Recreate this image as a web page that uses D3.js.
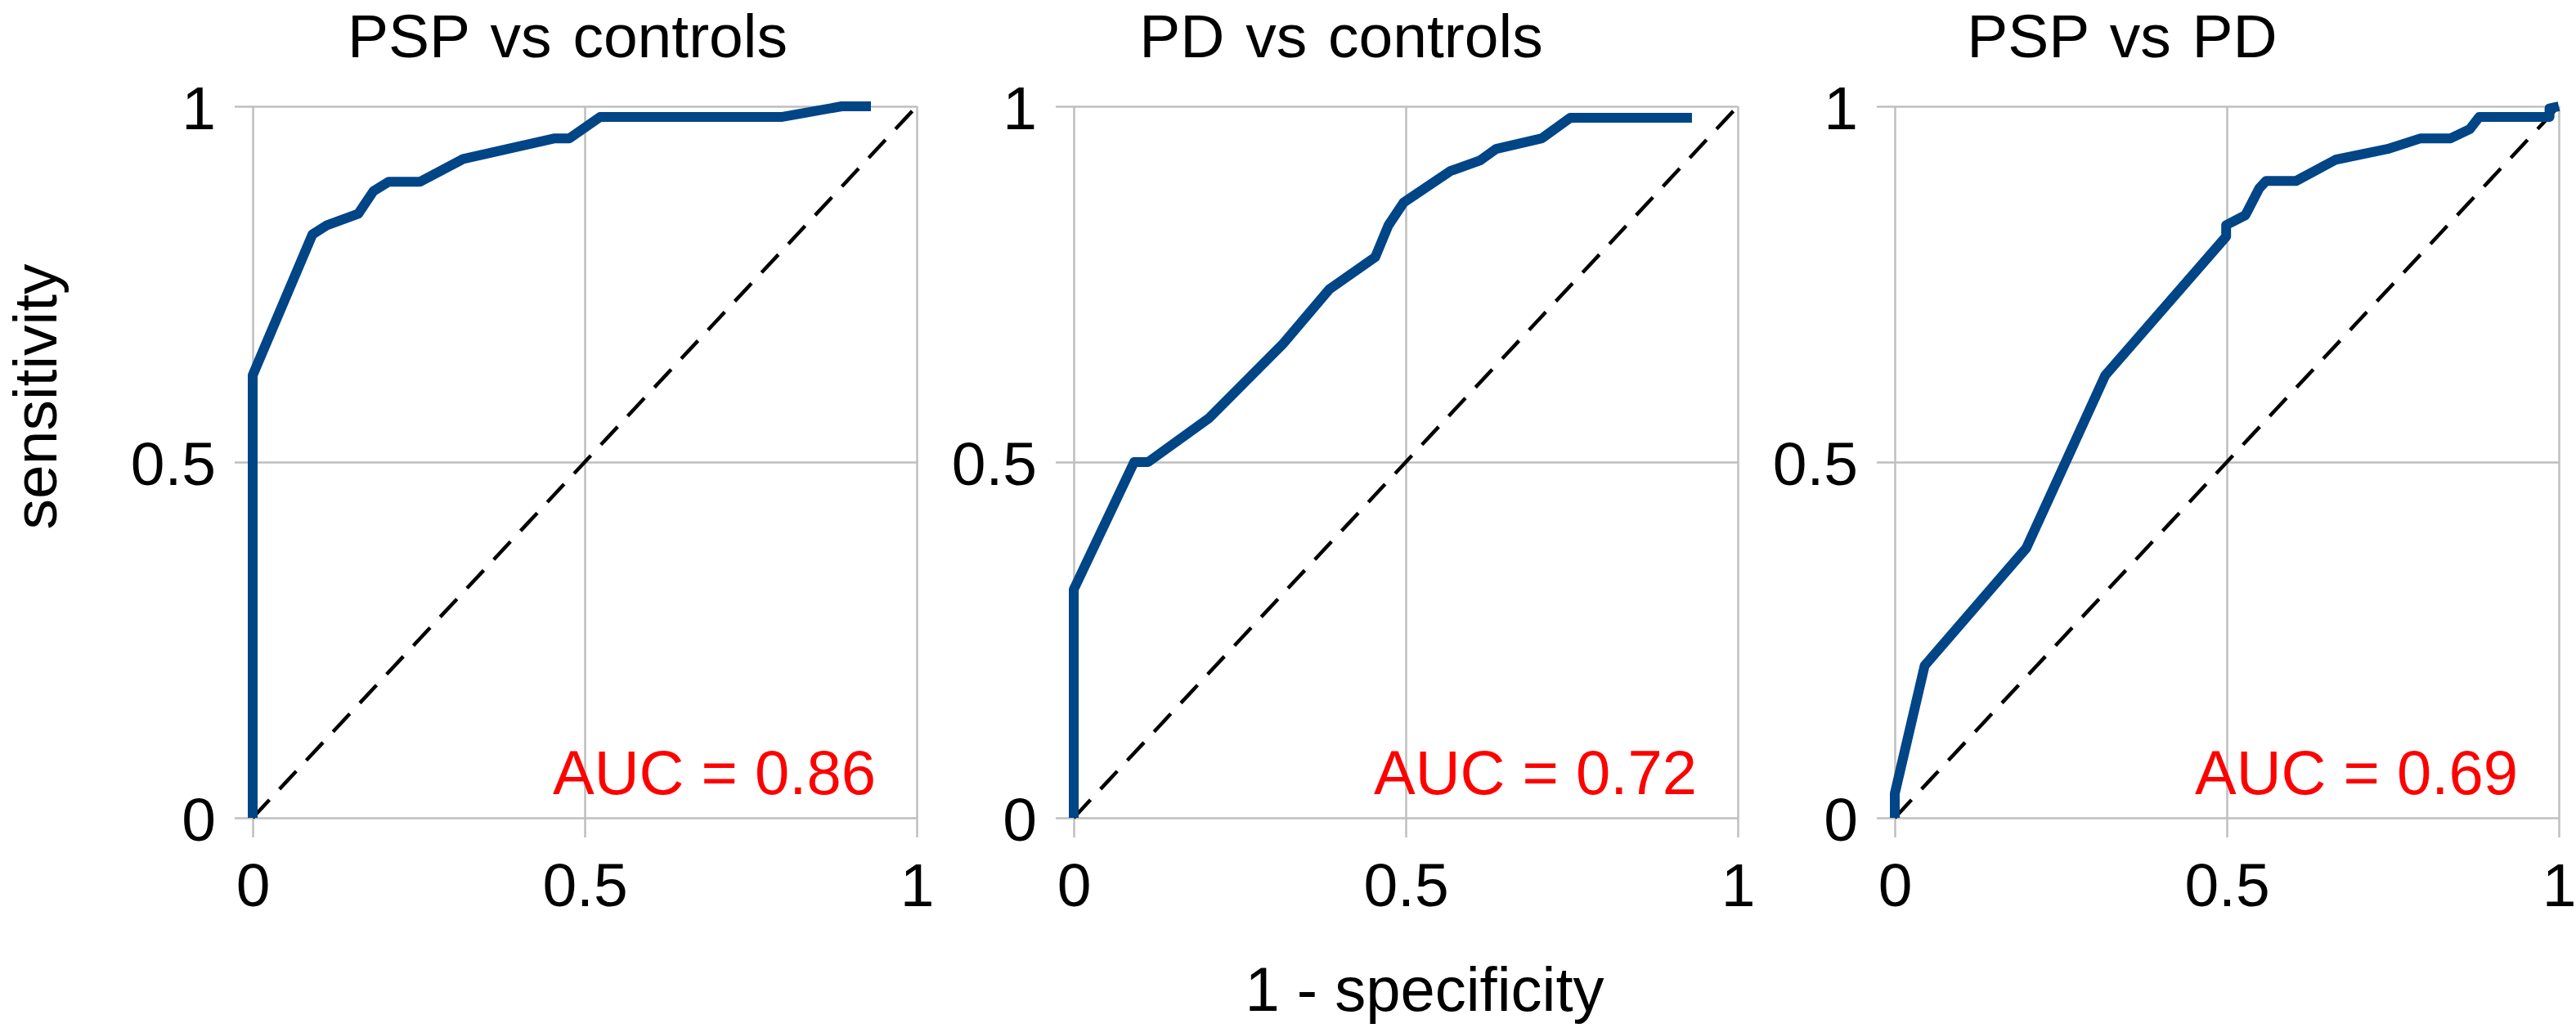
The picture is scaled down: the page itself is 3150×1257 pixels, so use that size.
<!DOCTYPE html>
<html>
<head>
<meta charset="utf-8">
<script src="https://cdn.jsdelivr.net/npm/d3@7"></script>
<style>
  body { margin: 0; background: #fff; }
  text { font-family: "Liberation Sans", Arial, sans-serif; }
</style>
</head>
<body>
<div id="chart"></div>
<script>
// ROC data: 1 - specificity (fpr) and sensitivity (tpr)
var pspControlsFpr = [0, 0, 0.090, 0.112, 0.159, 0.182, 0.205, 0.252, 0.317, 0.455, 0.477, 0.523, 0.796, 0.887, 0.931];
var pspControlsTpr = [0, 0.622, 0.820, 0.833, 0.849, 0.881, 0.894, 0.894, 0.926, 0.955, 0.955, 0.985, 0.985, 1.0, 1.0];

var pdControlsFpr = [0, 0, 0.091, 0.112, 0.204, 0.316, 0.385, 0.454, 0.474, 0.497, 0.567, 0.612, 0.636, 0.705, 0.748, 0.931];
var pdControlsTpr = [0, 0.321, 0.500, 0.500, 0.562, 0.667, 0.743, 0.788, 0.833, 0.865, 0.909, 0.924, 0.940, 0.955, 0.984, 0.984];

var pspPdFpr = [0, 0, 0.045, 0.198, 0.317, 0.499, 0.499, 0.528, 0.549, 0.559, 0.604, 0.664, 0.742, 0.792, 0.837, 0.866, 0.880, 0.986, 0.986, 1.0];
var pspPdTpr = [0, 0.034, 0.214, 0.379, 0.622, 0.817, 0.833, 0.847, 0.885, 0.895, 0.895, 0.925, 0.940, 0.955, 0.955, 0.968, 0.985, 0.985, 0.997, 1.0];

var panelTitles = ["PSP vs controls", "PD vs controls", "PSP vs PD"];
var aucValues = ["0.86", "0.72", "0.69"];
var tickValues = [0, 0.5, 1];
var tickLabels = ["0", "0.5", "1"];

var series = [
  {fpr: pspControlsFpr, tpr: pspControlsTpr},
  {fpr: pdControlsFpr, tpr: pdControlsTpr},
  {fpr: pspPdFpr, tpr: pspPdTpr}
];

var width = 3150, height = 1257;
var plotW = 812, plotH = 870, plotTop = 130;
var panelLeft = [309, 1313, 2317];
var titleCenter = [694, 1640, 2595];

var svg = d3.select("#chart")
  .append("svg")
  .attr("width", width)
  .attr("height", height)
  .style("background", "#fff");

var x = d3.scaleLinear().domain([0, 1]).range([0, plotW]);
var y = d3.scaleLinear().domain([0, 1]).range([plotH, 0]);

var line = d3.line()
  .x(function(d) { return x(d[0]); })
  .y(function(d) { return y(d[1]); });

series.forEach(function(s, i) {
  var g = svg.append("g")
    .attr("transform", "translate(" + panelLeft[i] + "," + plotTop + ")");

  // horizontal grid + y labels (lines stick out 22px to the left)
  var yAxis = g.append("g")
    .attr("transform", "translate(" + plotW + ",0)")
    .call(d3.axisLeft(y)
      .tickValues(tickValues)
      .tickFormat(function(d, j) { return tickLabels[j]; })
      .tickSize(plotW + 22)
      .tickPadding(23));

  // vertical grid + x labels (lines stick out 24px below)
  var xAxis = g.append("g")
    .call(d3.axisBottom(x)
      .tickValues(tickValues)
      .tickFormat(function(d, j) { return tickLabels[j]; })
      .tickSize(plotH + 24)
      .tickPadding(31));

  [yAxis, xAxis].forEach(function(a) {
    a.select(".domain").remove();
    a.selectAll(".tick line")
      .attr("stroke", "#bfbfbf")
      .attr("stroke-width", 2.5);
    a.selectAll(".tick text")
      .attr("fill", "#000")
      .style("font-size", "75px")
      .style("font-family", "'Liberation Sans', Arial, sans-serif");
  });
  yAxis.selectAll(".tick text").attr("dy", "0.36em");

  // chance diagonal
  g.append("line")
    .attr("x1", x(0)).attr("y1", y(0))
    .attr("x2", x(1)).attr("y2", y(1))
    .attr("stroke", "#000")
    .attr("stroke-width", 4.5)
    .attr("stroke-dasharray", "30,18");

  // ROC curve
  var pts = d3.zip(s.fpr, s.tpr);
  g.append("path")
    .datum(pts)
    .attr("d", line)
    .attr("fill", "none")
    .attr("stroke", "#004586")
    .attr("stroke-width", 12)
    .attr("stroke-linejoin", "round");

  g.append("text")
    .attr("x", plotW - 50)
    .attr("y", plotH - 29)
    .attr("text-anchor", "end")
    .attr("fill", "#ff0000")
    .style("font-size", "76px")
    .text("AUC = " + aucValues[i]);

  svg.append("text")
    .attr("x", titleCenter[i])
    .attr("y", 70)
    .attr("text-anchor", "middle")
    .attr("fill", "#000")
    .style("font-size", "75px")
    .style("word-spacing", "5px")
    .text(panelTitles[i]);
});

svg.append("text")
  .attr("transform", "translate(69,485)rotate(-90)")
  .attr("text-anchor", "middle")
  .attr("fill", "#000")
  .style("font-size", "75px")
  .text("sensitivity");

svg.append("text")
  .attr("x", 1742)
  .attr("y", 1236)
  .attr("text-anchor", "middle")
  .attr("fill", "#000")
  .style("font-size", "76px")
  .text("1 - specificity");
</script>
</body>
</html>
